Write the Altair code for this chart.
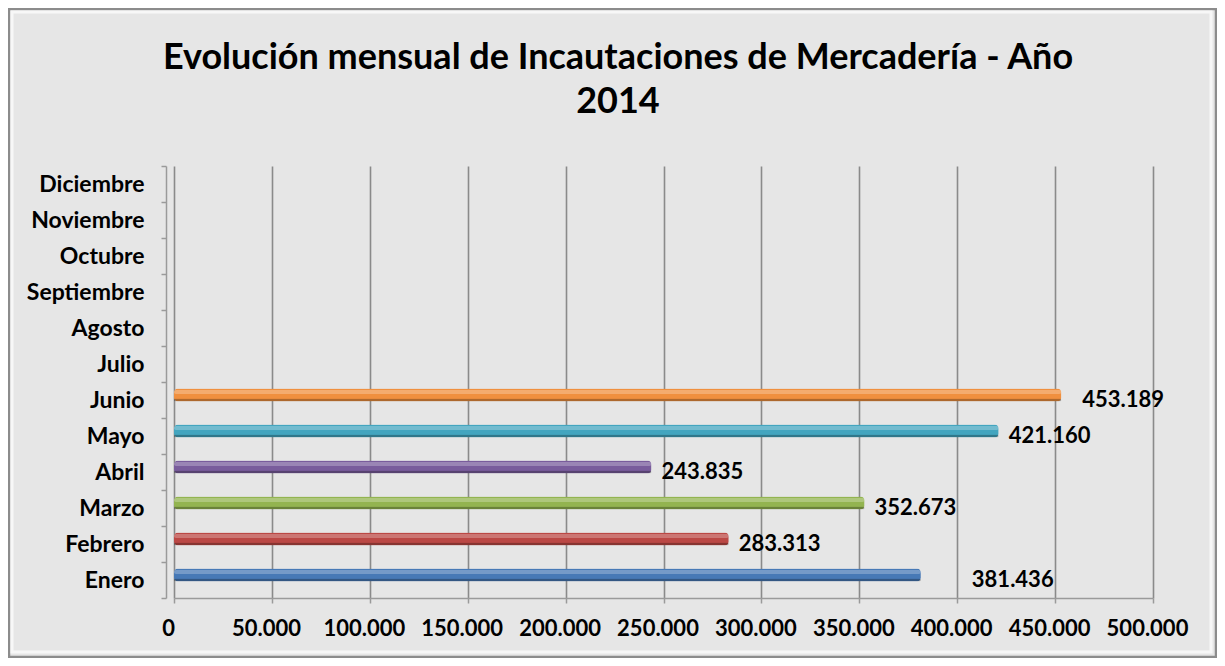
import altair as alt
import pandas as pd

months = ["Enero", "Febrero", "Marzo", "Abril", "Mayo", "Junio",
          "Julio", "Agosto", "Septiembre", "Octubre", "Noviembre", "Diciembre"]
months_with_data = ["Enero", "Febrero", "Marzo", "Abril", "Mayo", "Junio"]
values = [381436, 283313, 352673, 243835, 421160, 453189]
bar_colors = ["#4779B6", "#BB4845", "#93B450", "#795C9C", "#43A5BF", "#F0903F"]
x_ticks = [0, 50000, 100000, 150000, 200000, 250000, 300000, 350000, 400000, 450000, 500000]
title_lines = ["Evolución mensual de Incautaciones de Mercadería - Año", "2014"]

df = pd.DataFrame({"mes": months_with_data, "valor": values})
df["etiqueta"] = [f"{v:,}".replace(",", ".") for v in values]

FONT = "Lato"
W, H = 979, 432
PAD = {"left": 166, "top": 158, "right": 64, "bottom": 60}

yscale = alt.Scale(domain=list(reversed(months)), paddingInner=0, paddingOuter=0)
xscale = alt.Scale(domain=[0, 500000], nice=False, zero=True)
cscale = alt.Scale(domain=months_with_data, range=bar_colors)

base = alt.Chart(df)

bars = base.mark_bar(size=13, yOffset=-5, cornerRadius=4).encode(
    x=alt.X("valor:Q", scale=xscale,
            axis=alt.Axis(values=x_ticks, title=None, grid=True, gridColor="#8a8a8a",
                          gridWidth=1.6, domainColor="#9a9a9a", domainWidth=1.5,
                          tickColor="#9a9a9a", tickWidth=1.5, tickSize=5,
                          labelPadding=15, labelOffset=-6, labelOverlap=False,
                          labelFlush=False, labelBound=False,
                          labelFont=FONT, labelFontSize=22, labelFontWeight="bold",
                          labelColor="black",
                          labelExpr="replace(format(datum.value, ','), ',', '.')")),
    y=alt.Y("mes:N", scale=yscale, sort=None,
            axis=alt.Axis(title=None, offset=8, tickBand="extent", tickSize=5,
                          tickColor="#9a9a9a", tickWidth=1.5, domainColor="#9a9a9a",
                          domainWidth=1.5, labelPadding=17, labelFont=FONT,
                          labelFontSize=23, labelFontWeight="bold", labelColor="black")),
    color=alt.Color("mes:N", scale=cscale, legend=None),
)

highlight = base.mark_bar(size=4, yOffset=-8, color="white", opacity=0.25, cornerRadius=2).encode(
    x=alt.X("valor:Q", scale=xscale), y=alt.Y("mes:N", scale=yscale, sort=None))
shade = base.mark_bar(size=3, yOffset=0, color="black", opacity=0.28, cornerRadius=2).encode(
    x=alt.X("valor:Q", scale=xscale), y=alt.Y("mes:N", scale=yscale, sort=None))

def labels(month_list, dx):
    return base.transform_filter(
        alt.FieldOneOfPredicate(field="mes", oneOf=month_list)
    ).mark_text(align="left", baseline="middle", dx=dx, font=FONT, fontSize=22,
                fontWeight="bold", color="black").encode(
        x=alt.X("valor:Q", scale=xscale), y=alt.Y("mes:N", scale=yscale, sort=None),
        text="etiqueta:N")

lab_a = labels(["Febrero", "Marzo", "Abril", "Mayo"], 10)
lab_b = labels(["Junio"], 21)
lab_c = labels(["Enero"], 51)

one = pd.DataFrame({"k": [0]})
frame = alt.Chart(one).mark_rect(
    fill=None, stroke="#8c8c8c", strokeWidth=2.5).encode(
    x=alt.value(-PAD["left"] + 1), x2=alt.value(W + PAD["right"] - 1),
    y=alt.value(-PAD["top"] + 1), y2=alt.value(H + PAD["bottom"] - 1))
inner = alt.Chart(one).mark_rect(
    fill=None, stroke="#f7f7f7", strokeWidth=3).encode(
    x=alt.value(-PAD["left"] + 4), x2=alt.value(W + PAD["right"] - 6),
    y=alt.value(-PAD["top"] + 4), y2=alt.value(H + PAD["bottom"] - 6))

title = alt.Chart(one).mark_text(
    font=FONT, fontSize=36, fontWeight="bold", color="black", align="center",
    baseline="alphabetic", lineHeight=44).encode(
    x=alt.value(444), y=alt.value(-97), text=alt.value(title_lines))

chart = alt.layer(frame, inner, title, bars, highlight, shade, lab_a, lab_b, lab_c).properties(
    width=W, height=H, padding=PAD,
    autosize=alt.AutoSizeParams(type="none"),
    background="#e6e6e6",
).configure_view(stroke=None)

chart.save("out.html", embed_options={"renderer": "svg", "actions": False})
